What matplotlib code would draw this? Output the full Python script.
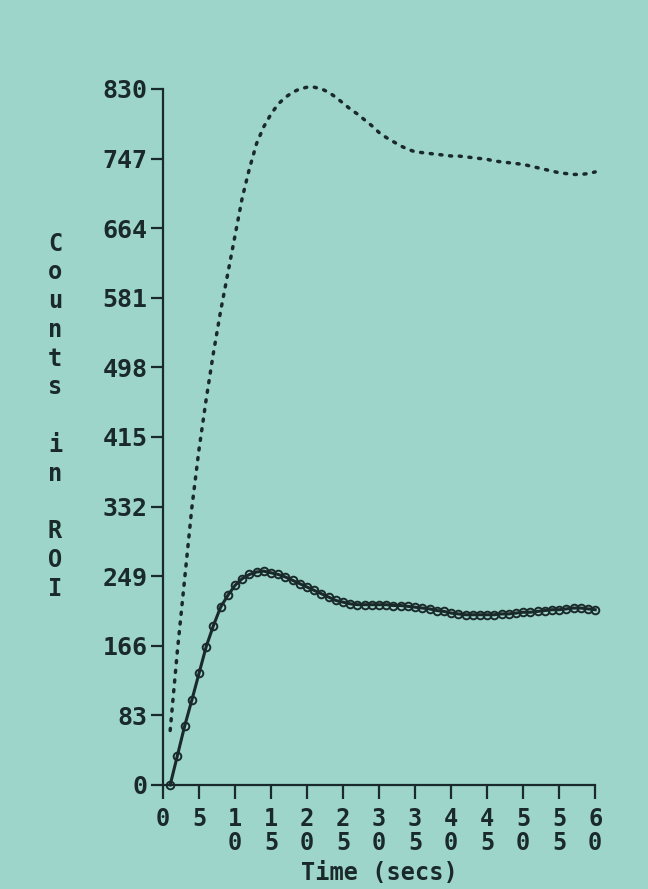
"""Renogram-style time-activity curves: counts in ROI over 60 seconds."""

import matplotlib
matplotlib.use("Agg")
import matplotlib.pyplot as plt

# --- data ---------------------------------------------------------------
time_s = list(range(1, 61))

upper_counts = [
    65, 160, 245, 330, 400, 460, 515, 565, 610, 655,
    700, 735, 765, 785, 800, 812, 820, 826, 830, 832,
    832, 830, 826, 820, 813, 806, 800, 793, 786, 778,
    772, 767, 762, 758, 755, 754, 753, 752, 751, 750,
    750, 749, 748, 747, 746, 744, 743, 742, 741, 740,
    738, 736, 734, 732, 730, 729, 728, 728, 729, 731,
]

lower_counts = [
    0, 35, 70, 101, 133, 165, 190, 212, 226, 238,
    246, 251, 254, 255, 253, 251, 248, 244, 240, 236,
    232, 228, 224, 220, 218, 216, 215, 215, 215, 215,
    215, 214, 214, 213, 212, 211, 210, 208, 207, 205,
    204, 203, 203, 203, 203, 203, 204, 204, 205, 206,
    206, 207, 208, 209, 209, 210, 211, 211, 210, 209,
]

y_ticks = [0, 83, 166, 249, 332, 415, 498, 581, 664, 747, 830]
x_ticks = list(range(0, 61, 5))
x_tick_labels = ["\n".join(str(v)) for v in x_ticks]

BG = "#9dd5cb"
INK = "#1a2929"
FONT = dict(family="DejaVu Sans Mono", fontweight="bold", color=INK)

fig = plt.figure(figsize=(6.48, 8.89), dpi=100)
fig.patch.set_facecolor(BG)
ax = fig.add_axes([0.2515, 0.117, 0.667, 0.783])
ax.set_facecolor(BG)

ax.plot(time_s, upper_counts, color=INK, linestyle=(0, (0.6, 2.2)), linewidth=2.5,
        dash_capstyle="round", clip_on=False)
ax.plot(time_s, lower_counts, color=INK, linewidth=2.2, marker="o", markersize=5.5,
        markerfacecolor="none", markeredgecolor=INK, markeredgewidth=1.4, clip_on=False)

ax.set_xlim(0, 60)
ax.set_ylim(0, 830)
for side in ("top", "right"):
    ax.spines[side].set_visible(False)
for side in ("left", "bottom"):
    ax.spines[side].set_color(INK)
    ax.spines[side].set_linewidth(1.6)

ax.set_yticks(y_ticks)
ax.set_yticklabels([str(v) for v in y_ticks], fontsize=18, **FONT)
ax.set_xticks(x_ticks)
ax.set_xticklabels(x_tick_labels, fontsize=17, linespacing=1.0, va="top", **FONT)
ax.tick_params(axis="y", length=9, width=1.6, color=INK, pad=2)
ax.tick_params(axis="x", length=10, width=1.6, color=INK, pad=6)

fig.text(0.585, 0.004, "Time (secs)", ha="center", va="bottom", fontsize=17, **FONT)
fig.text(0.085, 0.532, "C\no\nu\nn\nt\ns\n\ni\nn\n\nR\nO\nI", ha="center",
         va="center", fontsize=17, linespacing=1.25, **FONT)

fig.savefig("out.png", dpi=100, facecolor=BG)
